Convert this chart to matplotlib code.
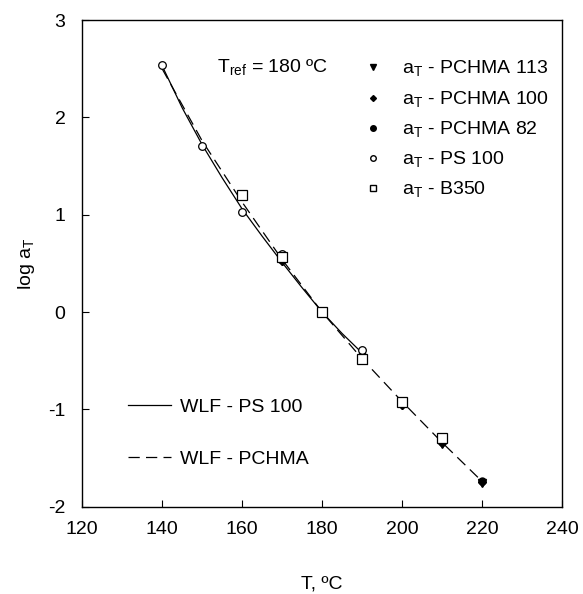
import matplotlib
matplotlib.use("Agg")
import matplotlib.pyplot as plt
from matplotlib.lines import Line2D

plt.rcParams["font.family"] = ["Liberation Sans", "DejaVu Sans"]
plt.rcParams["axes.unicode_minus"] = False

# shift factors
T_pchma113 = [170, 200, 210, 220]
a_pchma113 = [0.53, -0.95, -1.36, -1.76]
T_pchma100 = [170, 200, 210, 220]
a_pchma100 = [0.52, -0.96, -1.35, -1.75]
T_pchma82 = [170, 190, 200, 210, 220]
a_pchma82 = [0.54, -0.44, -0.94, -1.34, -1.74]
T_ps100 = [140, 150, 160, 170, 180, 190]
a_ps100 = [2.54, 1.71, 1.03, 0.60, 0.0, -0.39]
T_b350 = [160, 170, 180, 190, 200, 210]
a_b350 = [1.20, 0.57, 0.0, -0.48, -0.92, -1.29]

# WLF curves
T_wlf_ps = [140, 145, 150, 155, 160, 165, 170, 175, 180, 185, 190]
a_wlf_ps = [2.53, 2.10, 1.72, 1.38, 1.06, 0.78, 0.51, 0.25, 0.0, -0.22, -0.42]
T_wlf_pchma = [140, 150, 160, 170, 180, 190, 200, 210, 220]
a_wlf_pchma = [2.50, 1.76, 1.13, 0.54, 0.0, -0.48, -0.92, -1.34, -1.74]

xticks = [120, 140, 160, 180, 200, 220, 240]
yticks = [-2, -1, 0, 1, 2, 3]

fig = plt.figure(figsize=(5.83, 5.94), dpi=100)
ax = fig.add_axes([0.141, 0.147, 0.823, 0.819])

ax.plot(T_wlf_ps, a_wlf_ps, "-", color="black", lw=0.9)
ax.plot(T_wlf_pchma, a_wlf_pchma, color="black", lw=0.9, dashes=(9, 5))

ms = 5.5
ax.plot(T_pchma113, a_pchma113, "v", color="black", ms=ms, ls="none")
ax.plot(T_pchma100, a_pchma100, "D", color="black", ms=ms - 1.5, ls="none")
ax.plot(T_pchma82, a_pchma82, "o", color="black", ms=ms - 0.5, ls="none")
ax.plot(T_ps100, a_ps100, "o", mfc="white", mec="black", mew=0.9, ms=ms, ls="none")
ax.plot(T_b350, a_b350, "s", mfc="white", mec="black", mew=0.9, ms=ms + 1.5, ls="none")

ax.set_xlim(120, 240)
ax.set_ylim(-2, 3)
ax.set_xticks(xticks)
ax.set_yticks(yticks)
ax.tick_params(direction="in", length=5, labelsize=14)
ax.tick_params(axis="x", pad=10)
ax.tick_params(axis="y", pad=12)
for s in ax.spines.values():
    s.set_linewidth(1.0)

ax.set_xlabel("T, \u00baC", fontsize=14, labelpad=27)
ax.set_ylabel("log a$_\\mathregular{T}$", fontsize=14, labelpad=8)

ax.text(0.28, 0.903, "T$_\\mathregular{ref}$ = 180 \u00baC", transform=ax.transAxes,
        fontsize=14, va="center")

mk_handles = [
    Line2D([], [], marker="v", color="black", ls="none", ms=4),
    Line2D([], [], marker="D", color="black", ls="none", ms=3),
    Line2D([], [], marker="o", color="black", ls="none", ms=4),
    Line2D([], [], marker="o", mfc="white", mec="black", ls="none", ms=4),
    Line2D([], [], marker="s", mfc="white", mec="black", ls="none", ms=5),
]
mk_labels = ["a$_\\mathregular{T}$ - PCHMA 113", "a$_\\mathregular{T}$ - PCHMA 100",
             "a$_\\mathregular{T}$ - PCHMA 82", "a$_\\mathregular{T}$ - PS 100",
             "a$_\\mathregular{T}$ - B350"]
leg1 = ax.legend(mk_handles, mk_labels, loc="upper left", bbox_to_anchor=(0.558, 0.948),
                 frameon=False, fontsize=14, labelspacing=0.51, handlelength=1.0,
                 handletextpad=1.0, borderpad=0.2)
ax.add_artist(leg1)

ln_handles = [
    Line2D([], [], color="black", lw=0.9),
    Line2D([], [], color="black", lw=0.9, dashes=(9, 5)),
]
ax.legend(ln_handles, ["WLF - PS 100", "WLF - PCHMA"], loc="lower left",
          bbox_to_anchor=(0.06, 0.043), frameon=False, fontsize=14,
          labelspacing=1.8, handlelength=2.2, handletextpad=0.45)

fig.savefig("out.png", dpi=100)
